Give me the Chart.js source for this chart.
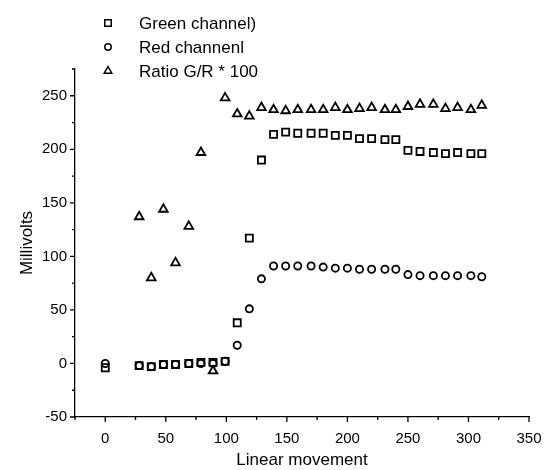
<!DOCTYPE html>
<html>
<head>
<meta charset="utf-8">
<script src="https://cdn.jsdelivr.net/npm/chart.js@4.4.1/dist/chart.umd.min.js"></script>
<style>
  html, body { margin: 0; padding: 0; background: #fff; }
  #wrap { width: 547px; height: 470px; position: relative; }
</style>
</head>
<body>
<div id="wrap"><canvas id="chart"></canvas></div>
<script>
"use strict"

// positions along the movement axis
const positions = [0, 28, 38, 48, 58, 69, 79, 89, 99, 109, 119, 129, 139, 149, 159, 170, 180, 190, 200, 210, 220, 231, 240, 250, 260, 271, 281, 291, 302, 311];

const greenChannel = [-4, -2, -3, -1, -1, 0, 1, 1, 2, 38, 117, 190, 214, 216, 215, 215, 215, 213, 213, 210, 210, 209, 209, 199, 198, 197, 196, 197, 196, 196];
const redChannel = [0, -2, -3, -1, -1, 0, 0, 0, 2, 17, 51, 79, 91, 91, 91, 91, 90, 89, 89, 88, 88, 88, 88, 83, 82, 82, 82, 82, 82, 81];
// no ratio at position 0
const ratioGR = [null, 137, 80, 144, 94, 128, 197, -7, 248, 233, 231, 239, 237, 236, 237, 237, 237, 239, 237, 238, 239, 237, 237, 240, 242, 242, 238, 239, 237, 241];

const seriesNames = ['Green channel)', 'Red channenl', 'Ratio G/R * 100'];
const xTickLabels = [0, 50, 100, 150, 200, 250, 300, 350];
const yTickLabels = [-50, 0, 50, 100, 150, 200, 250];

const FONT = '"Liberation Sans", Arial, sans-serif';

function toPoints(values) {
    return positions.map((x, i) => ({ x: x, y: values[i] })).filter(p => p.y !== null);
}

// small tick marks, long ones on labelled values
const tickMarks = {
    id: 'tickMarks',
    afterDraw(chart) {
        const ctx = chart.ctx;
        const area = chart.chartArea;
        const xs = chart.scales.x;
        const ys = chart.scales.y;
        ctx.save();
        ctx.strokeStyle = '#000';
        ctx.lineWidth = 1.3;
        ctx.beginPath();
        xs.ticks.forEach(t => {
            const px = xs.getPixelForValue(t.value);
            const len = xTickLabels.includes(t.value) ? 5 : 3;
            ctx.moveTo(px, area.bottom);
            ctx.lineTo(px, area.bottom + len);
        });
        ys.ticks.forEach(t => {
            const py = ys.getPixelForValue(t.value);
            const len = yTickLabels.includes(t.value) ? 5 : 3;
            ctx.moveTo(area.left, py);
            ctx.lineTo(area.left - len, py);
        });
        ctx.stroke();
        ctx.restore();
    }
};

function drawMarker(ctx, style, x, y, r) {
    ctx.beginPath();
    if (style === 'rect') {
        const s = r * Math.SQRT1_2;
        ctx.rect(x - s, y - s, 2 * s, 2 * s);
    } else if (style === 'circle') {
        ctx.arc(x, y, r, 0, Math.PI * 2);
    } else {
        ctx.moveTo(x, y - r);
        ctx.lineTo(x + r * Math.sin(Math.PI / 3), y + r / 2);
        ctx.lineTo(x - r * Math.sin(Math.PI / 3), y + r / 2);
        ctx.closePath();
    }
    ctx.stroke();
}

// legend stacked in the top left corner
const stackedLegend = {
    id: 'stackedLegend',
    afterDraw(chart) {
        const ctx = chart.ctx;
        const styles = ['rect', 'circle', 'triangle'];
        const sizes = [4.6, 3.2, 4.4];
        const rows = [23, 47, 71];
        ctx.save();
        ctx.strokeStyle = '#000';
        ctx.lineWidth = 1.5;
        ctx.fillStyle = '#000';
        ctx.font = '17px ' + FONT;
        ctx.textBaseline = 'middle';
        seriesNames.forEach((name, i) => {
            drawMarker(ctx, styles[i], 108, rows[i], sizes[i]);
            ctx.fillText(name, 139, rows[i] + 1);
        });
        ctx.restore();
    }
};

const ctx = document.getElementById('chart').getContext('2d');

new Chart(ctx, {
    type: 'scatter',
    data: {
        datasets: [{
            label: seriesNames[0],
            data: toPoints(greenChannel),
            pointStyle: 'rect',
            pointRadius: 5,
            borderColor: '#000',
            backgroundColor: 'transparent',
            borderWidth: 1.8
        }, {
            label: seriesNames[1],
            data: toPoints(redChannel),
            pointStyle: 'circle',
            pointRadius: 3.6,
            borderColor: '#000',
            backgroundColor: 'transparent',
            borderWidth: 1.8
        }, {
            label: seriesNames[2],
            data: toPoints(ratioGR),
            pointStyle: 'triangle',
            pointRadius: 5,
            borderColor: '#000',
            backgroundColor: 'transparent',
            borderWidth: 1.8
        }]
    },
    options: {
        responsive: true,
        maintainAspectRatio: false,
        animation: false,
        layout: {
            padding: { top: 69, right: 18, left: 0, bottom: 0 }
        },
        plugins: {
            legend: { display: false },
            tooltip: { enabled: false }
        },
        scales: {
            x: {
                type: 'linear',
                min: -25,
                max: 350,
                afterFit: function (scale) {
                    scale.height = 53;
                    scale.paddingLeft = 0;
                    scale.paddingRight = 0;
                },
                border: { color: '#000', width: 1.3 },
                grid: { drawOnChartArea: false, tickLength: 6, tickColor: 'transparent' },
                ticks: {
                    stepSize: 25,
                    padding: 8,
                    color: '#000',
                    maxRotation: 0,
                    autoSkip: false,
                    font: { family: FONT, size: 15, lineHeight: 1.1 },
                    callback: function (value) {
                        return xTickLabels.includes(value) ? String(value) : '';
                    }
                },
                title: {
                    display: true,
                    text: 'Linear movement',
                    color: '#000',
                    padding: { top: 7, bottom: 0 },
                    font: { family: FONT, size: 17, lineHeight: 1.1 }
                }
            },
            y: {
                type: 'linear',
                min: -50,
                max: 275,
                afterFit: function (scale) { scale.width = 75; },
                border: { color: '#000', width: 1.3 },
                grid: { drawOnChartArea: false, tickLength: 6, tickColor: 'transparent' },
                ticks: {
                    stepSize: 25,
                    padding: 2,
                    color: '#000',
                    autoSkip: false,
                    font: { family: FONT, size: 15, lineHeight: 1.1 },
                    callback: function (value) {
                        return yTickLabels.includes(value) ? String(value) : '';
                    }
                },
                title: {
                    display: true,
                    text: 'Millivolts',
                    color: '#000',
                    padding: { top: 18, bottom: 0 },
                    font: { family: FONT, size: 17, lineHeight: 1.1 }
                }
            }
        }
    },
    plugins: [tickMarks, stackedLegend]
});
</script>
</body>
</html>
